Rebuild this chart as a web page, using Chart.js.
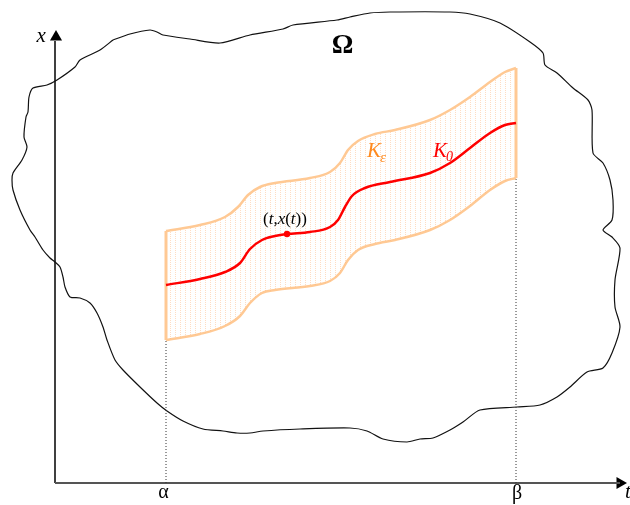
<!DOCTYPE html>
<html>
<head>
<meta charset="utf-8">
<script src="https://cdn.jsdelivr.net/npm/chart.js@4.4.0/dist/chart.umd.min.js"></script>
<style>
  html, body { margin: 0; padding: 0; background: #fff; }
  #wrap { width: 630px; height: 505px; position: relative; }
</style>
</head>
<body>
<div id="wrap"><canvas id="c"></canvas></div>
<script>
// interval ends on the t axis
const alpha = 11.1;
const beta = 46.1;

// K0: the solution x(t)
const k0T = [11.1, 14.5, 17.0, 18.5, 19.5, 20.7, 22.0, 23.2, 25.5, 27.5, 28.3, 29.0, 29.7, 31.0, 33.5, 37.5, 39.5, 41.5, 43.5, 45.0, 46.1];
const k0X = [19.8, 20.4, 21.1, 22.0, 23.4, 24.3, 24.7, 24.9, 25.1, 25.6, 26.3, 27.6, 28.7, 29.5, 30.1, 31.0, 32.0, 33.5, 35.0, 35.8, 36.0];

// marked point (t, x(t))
const markT = [23.2];
const markX = [24.9];

// K_eps tube, upper and lower edges
const upT = [11.1, 14.5, 17.0, 18.3, 19.3, 20.5, 22.0, 25.5, 27.5, 28.5, 29.3, 30.3, 32.0, 34.0, 37.5, 39.5, 41.5, 43.5, 45.0, 46.1];
const upX = [25.2, 25.8, 26.6, 27.6, 28.8, 29.6, 30.0, 30.5, 31.1, 32.0, 33.3, 34.2, 34.9, 35.3, 36.3, 37.3, 38.6, 40.1, 41.1, 41.5];
const lowT = [11.1, 14.5, 17.0, 18.5, 19.5, 20.7, 22.0, 25.5, 27.5, 28.5, 29.3, 30.3, 32.0, 34.0, 37.5, 39.5, 41.5, 43.5, 45.0, 46.1];
const lowX = [14.3, 14.9, 15.7, 16.7, 18.0, 19.0, 19.3, 19.7, 20.2, 21.0, 22.3, 23.3, 23.9, 24.3, 25.3, 26.3, 27.7, 29.3, 30.2, 30.5];

// Omega outline (closed)
const omegaT = [5.8, 7.5, 9.5, 10.2, 10.8, 13.5, 16.5, 19.5, 22.8, 23.8, 28.2, 29.5, 31.5, 33.5, 39.5, 41.5, 44.5, 47.5, 48.8, 49.0,
  50.2, 51.8, 53.3, 53.7, 53.8, 54.8, 55.5, 55.8, 55.7, 54.8, 55.7, 56.5, 56.0, 56.0, 56.5, 55.7, 54.8, 53.2, 51.5, 50.2,
  48.5, 46.2, 42.5, 40.8, 39.5, 37.8, 36.5, 35.2, 32.8, 31.2, 29.5, 24.5, 20.8, 19.5, 18.2, 16.8, 14.8, 12.8, 11.2, 10.2,
  8.5, 6.8, 6.0, 5.2, 4.8, 4.2, 3.5, 2.5, 1.5, 1.0, 0.8, 0.5, 0.0, -0.5, -1.2, -2.0, -2.5, -3.5, -4.2, -4.3,
  -4.2, -3.3, -2.8, -3.1, -2.9, -2.7, -2.6, -2.2, -0.8, 0.2, 2.0, 2.5, 4.5, 5.8];
const omegaX = [44.3, 44.9, 45.3, 45.1, 44.8, 44.4, 44.0, 44.8, 45.4, 45.8, 46.3, 46.6, 47.0, 47.1, 47.1, 46.9, 46.0, 44.1, 43.0, 41.8,
  41.0, 39.5, 38.3, 37.3, 33.0, 32.0, 30.3, 28.3, 26.3, 25.3, 24.6, 23.5, 20.3, 17.6, 15.6, 13.0, 11.5, 11.1, 9.6, 8.6,
  7.8, 7.6, 7.3, 6.1, 5.3, 4.5, 4.4, 4.1, 4.4, 5.2, 5.5, 5.4, 5.2, 5.0, 5.0, 5.2, 5.4, 6.2, 7.2, 8.0,
  9.6, 11.3, 12.3, 14.3, 15.6, 17.0, 18.0, 18.5, 18.6, 19.6, 20.6, 21.6, 22.1, 22.5, 23.3, 24.6, 25.3, 27.3, 29.3, 30.3,
  31.0, 32.3, 33.6, 34.6, 36.6, 37.1, 38.6, 39.5, 39.8, 40.3, 41.6, 42.3, 43.3, 44.3];

// axis extents
const tAxisEnd = 56.5;
const xAxisEnd = 44.6;

const zip = (ts, xs) => ts.map((t, i) => ({ x: t, y: xs[i] }));

const canvas = document.getElementById('c');
const ctx = canvas.getContext('2d');

// dotted vertical hatch for the tube
const tile = document.createElement('canvas');
tile.width = 5; tile.height = 2;
const tg = tile.getContext('2d');
tg.fillStyle = 'rgba(255,180,120,0.45)';
tg.fillRect(0, 0, 1, 1);
const hatch = ctx.createPattern(tile, 'repeat');

const peach = '#FFC994';

const labels = {
  id: 'labels',
  afterDraw(chart) {
    const c = chart.ctx;
    const sx = chart.scales.x, sy = chart.scales.y;
    const X = v => sx.getPixelForValue(v);
    const Y = v => sy.getPixelForValue(v);
    c.save();
    c.textBaseline = 'alphabetic';
    c.fillStyle = '#000';

    c.textAlign = 'left';
    c.font = 'italic 21px "Liberation Serif"';
    c.fillText('x', X(-1.85), Y(44.1));
    c.fillText('t', X(57.0), Y(-1.5));

    c.textAlign = 'center';
    c.font = 'bold 27px "Liberation Serif"';
    c.fillText('Ω', X(28.75), Y(43.0));

    c.font = '20px "Liberation Serif"';
    c.fillText('α', X(10.85), Y(-1.45));
    c.fillText('β', X(46.2), Y(-1.6));

    // (t,x(t))
    c.textAlign = 'left';
    let px = X(20.8);
    const by = Y(25.9);
    const parts = [['(', ''], ['t', 'italic '], [',', ''], ['x', 'italic '], ['(', ''], ['t', 'italic '], [')', ''], [')', '']];
    parts.forEach(([s, st]) => {
      c.font = st + '17px "Liberation Serif"';
      c.fillText(s, px, by);
      px += c.measureText(s).width;
    });

    // K_eps
    c.fillStyle = '#FF8A1E';
    c.font = 'italic 21px "Liberation Serif"';
    let kx = X(31.2);
    c.fillText('K', kx, Y(32.6));
    kx += c.measureText('K').width;
    c.font = 'italic 15px "Liberation Serif"';
    c.fillText('ε', kx - 1, Y(32.1));

    // K_0
    c.fillStyle = '#FF0000';
    c.font = 'italic 21px "Liberation Serif"';
    kx = X(37.8);
    c.fillText('K', kx, Y(32.6));
    kx += c.measureText('K').width;
    c.font = 'italic 14px "Liberation Serif"';
    c.fillText('0', kx - 1, Y(32.2));
    c.restore();
  }
};

new Chart(canvas, {
  type: 'line',
  data: {
    datasets: [
      { data: zip(markT, markX), showLine: false, pointRadius: 3.2, pointBackgroundColor: '#FF0000', pointBorderWidth: 0, order: 0 },
      { data: zip(k0T, k0X), borderColor: '#FF0000', borderWidth: 2.5, cubicInterpolationMode: 'monotone', pointRadius: 0, order: 1 },
      { data: zip(upT, upX), borderColor: peach, borderWidth: 2.5, cubicInterpolationMode: 'monotone', pointRadius: 0,
        fill: '+1', backgroundColor: hatch, order: 3 },
      { data: zip(lowT, lowX), borderColor: peach, borderWidth: 2.5, cubicInterpolationMode: 'monotone', pointRadius: 0, order: 3 },
      { data: [{ x: alpha, y: lowX[0] }, { x: alpha, y: upX[0] }], borderColor: peach, borderWidth: 3, pointRadius: 0, order: 2 },
      { data: [{ x: beta, y: lowX[lowX.length - 1] }, { x: beta, y: upX[upX.length - 1] }], borderColor: peach, borderWidth: 3, pointRadius: 0, order: 2 },
      { data: [{ x: alpha, y: 0 }, { x: alpha, y: lowX[0] }], borderColor: '#333', borderWidth: 1, borderDash: [1, 2], pointRadius: 0, order: 4 },
      { data: [{ x: beta, y: 0 }, { x: beta, y: lowX[lowX.length - 1] }], borderColor: '#333', borderWidth: 1, borderDash: [1, 2], pointRadius: 0, order: 4 },
      { data: zip(omegaT, omegaX), borderColor: '#111', borderWidth: 1.2, tension: 0.25, pointRadius: 0, order: 5 },
      { data: [{ x: 0, y: 0 }, { x: tAxisEnd, y: 0 }], borderColor: '#555', borderWidth: 2, pointRadius: 0, order: 6 },
      { data: [{ x: 0, y: 0 }, { x: 0, y: xAxisEnd - 0.4 }], borderColor: '#000', borderWidth: 1.5, pointRadius: 0, order: 6 },
      { data: [{ x: tAxisEnd, y: 0 }], showLine: false, pointStyle: 'triangle', rotation: 90, pointRadius: 7,
        pointBackgroundColor: '#000', pointBorderColor: '#000', pointBorderWidth: 0, order: 6 },
      { data: [{ x: 0.1, y: xAxisEnd }], showLine: false, pointStyle: 'triangle', rotation: 0, pointRadius: 7,
        pointBackgroundColor: '#000', pointBorderColor: '#000', pointBorderWidth: 0, order: 6 }
    ]
  },
  options: {
    responsive: true,
    maintainAspectRatio: false,
    animation: false,
    devicePixelRatio: 1,
    layout: { padding: 0, autoPadding: false },
    scales: {
      x: { type: 'linear', min: -5.5, max: 57.5, display: false },
      y: { type: 'linear', min: -2.2, max: 48.3, display: false }
    },
    plugins: { legend: { display: false }, tooltip: { enabled: false } },
    elements: { point: { hoverRadius: 0 } }
  },
  plugins: [labels]
});
</script>
</body>
</html>
